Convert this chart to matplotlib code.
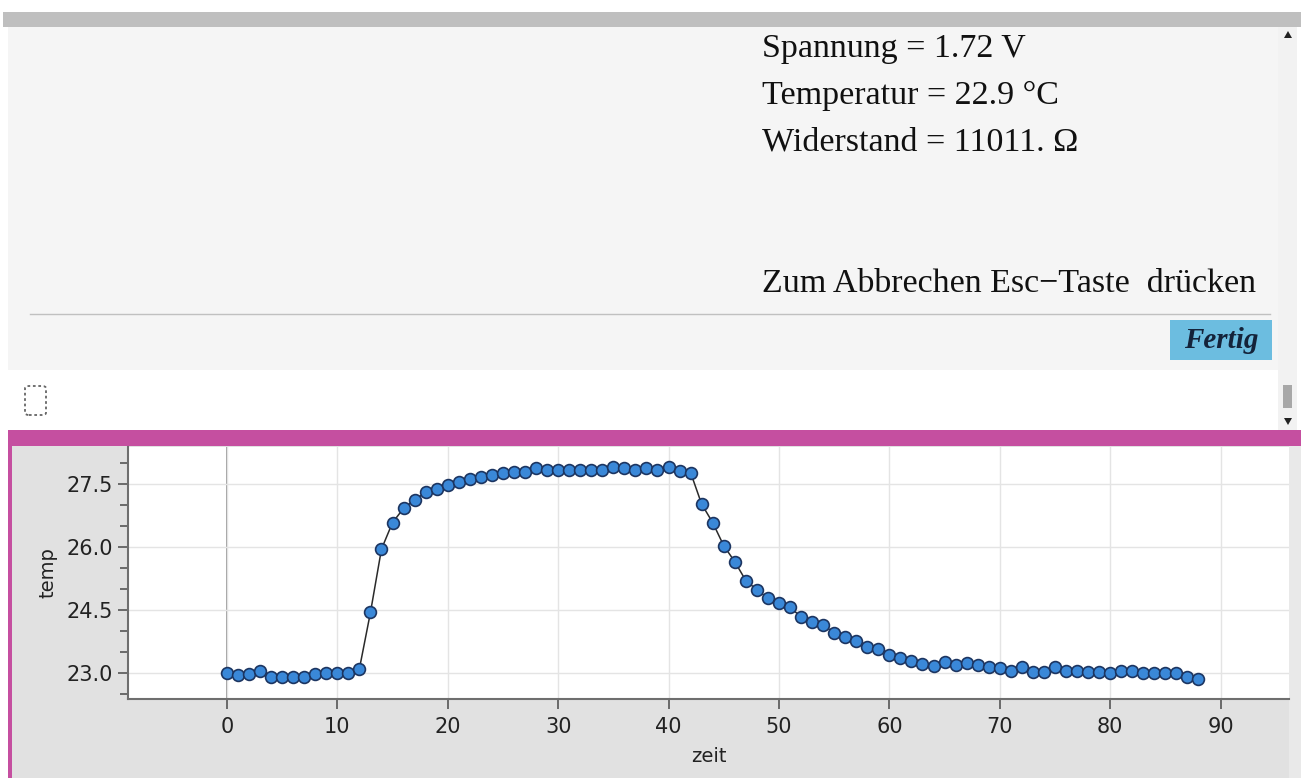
import matplotlib
matplotlib.use("Agg")
import matplotlib.pyplot as plt
from matplotlib.patches import Rectangle, FancyBboxPatch, Polygon

# messwerte (zeit in s, temp in °C)
zeit = list(range(0, 89))
temp = [
    23.00, 22.96, 22.98, 23.05, 22.91, 22.91, 22.91, 22.91, 22.97, 23.00,
    23.00, 23.00, 23.10, 24.44, 25.95, 26.58, 26.92, 27.12, 27.30, 27.38,
    27.47, 27.55, 27.63, 27.67, 27.71, 27.77, 27.79, 27.79, 27.87, 27.83,
    27.83, 27.83, 27.83, 27.83, 27.83, 27.91, 27.87, 27.83, 27.87, 27.83,
    27.91, 27.81, 27.77, 27.02, 26.58, 26.03, 25.65, 25.20, 24.98, 24.78,
    24.66, 24.56, 24.34, 24.22, 24.14, 23.96, 23.86, 23.75, 23.61, 23.57,
    23.43, 23.35, 23.29, 23.21, 23.17, 23.27, 23.20, 23.23, 23.20, 23.14,
    23.11, 23.05, 23.14, 23.03, 23.03, 23.14, 23.05, 23.05, 23.03, 23.03,
    23.00, 23.05, 23.05, 23.00, 22.99, 23.00, 22.99, 22.90, 22.85,
]
x_ticks = [0, 10, 20, 30, 40, 50, 60, 70, 80, 90]
y_ticks = [23.0, 24.5, 26.0, 27.5]
anzeige = ["Spannung = 1.72 V", "Temperatur = 22.9 °C", "Widerstand = 11011. Ω"]

W, H = 1301, 778
fig = plt.figure(figsize=(W / 100, H / 100), dpi=100)
fig.patch.set_facecolor("white")


def box(x0, y0, x1, y1, **kw):
    # pixel coords, origin top-left
    r = Rectangle((x0 / W, 1 - y1 / H), (x1 - x0) / W, (y1 - y0) / H,
                  transform=fig.transFigure, **kw)
    fig.patches.append(r)
    return r


def ftext(x, y, s, **kw):
    fig.text(x / W, 1 - y / H, s, **kw)


# oberes fenster
box(3, 12, 1301, 27, color="#bfbfbf", lw=0)
box(8, 27, 1278, 370, color="#f5f5f5", lw=0)
box(8, 370, 1278, 430, color="#ffffff", lw=0)
box(1278, 27, 1297, 430, color="#f2f2f2", lw=0)
box(1283, 385, 1292, 408, color="#a8a8a8", lw=0)
fig.patches.append(Polygon([(1284 / W, 1 - 38 / H), (1292 / W, 1 - 38 / H), (1288 / W, 1 - 31 / H)],
                           closed=True, transform=fig.transFigure, color="#222222", lw=0))
fig.patches.append(Polygon([(1284 / W, 1 - 418 / H), (1292 / W, 1 - 418 / H), (1288 / W, 1 - 425 / H)],
                           closed=True, transform=fig.transFigure, color="#222222", lw=0))
fig.lines.append(plt.Line2D([30 / W, 1270 / W], [1 - 314 / H, 1 - 314 / H],
                            transform=fig.transFigure, color="#c0c0c0", lw=1))

serif = ["Liberation Serif", "DejaVu Serif"]
for i, s in enumerate(anzeige):
    ftext(762, 57 + i * 46.7, s, family=serif, fontsize=24.5, color="#111111", va="baseline")
ftext(762, 292, "Zum Abbrechen Esc\u2212Taste  drücken", family=serif, fontsize=24.5,
      color="#111111", va="baseline")

box(1170, 320, 1272, 360, color="#6cbde0", lw=0)
ftext(1221, 348, "Fertig", family=serif, fontsize=21, style="italic", weight="bold",
      color="#14233a", ha="center", va="baseline")

icon = FancyBboxPatch((25 / W, 1 - 415 / H), 21 / W, 29 / H,
                      boxstyle="round,pad=0,rounding_size=0.003",
                      transform=fig.transFigure, fill=False, ec="#666666",
                      lw=1.3, ls=(0, (1.5, 1.5)))
fig.patches.append(icon)

# unteres fenster
box(8, 430, 1301, 446, color="#c54fa0", lw=0)
box(8, 446, 12, 778, color="#c54fa0", lw=0)
box(12, 446, 1301, 778, color="#e1e1e1", lw=0)
box(1289, 446, 1301, 778, color="#e9e9e9", lw=0)

# diagramm
ax_l, ax_r, ax_t, ax_b = 128, 1289, 447, 699
ax = fig.add_axes([ax_l / W, 1 - ax_b / H, (ax_r - ax_l) / W, (ax_b - ax_t) / H])
ax.set_zorder(5)
ax.set_facecolor("white")
ax.set_xlim(-8.96, 96.2)
ax.set_ylim(22.38, 28.38)

ax.set_xticks(x_ticks)
ax.set_yticks(y_ticks)
ax.set_yticks([v / 2 for v in range(45, 57)], minor=True)
ax.set_yticklabels([f"{v:.1f}" for v in y_ticks])
ax.grid(True, which="major", color="#e4e4e4", lw=1)
ax.axvline(0, color="#8a8a8a", lw=1.2, zorder=1)

for side in ["top", "right"]:
    ax.spines[side].set_visible(False)
for side in ["left", "bottom"]:
    ax.spines[side].set_color("#6e6e6e")
    ax.spines[side].set_linewidth(1.5)

ax.tick_params(axis="both", which="major", length=7, width=1.2, color="#555555",
               labelsize=15, labelcolor="#222222")
ax.tick_params(axis="y", which="minor", length=6, width=1.2, color="#555555")
ax.tick_params(axis="x", pad=6)
ax.tick_params(axis="y", pad=4)

ax.plot(zeit, temp, color="#2a2a2a", lw=1.1, zorder=2,
        marker="o", markersize=8.5, markerfacecolor="#3a88d8",
        markeredgecolor="#1c3561", markeredgewidth=1.2, clip_on=False)

ax.set_xlabel("zeit", fontsize=14, color="#222222", labelpad=7)
ax.set_ylabel("temp", fontsize=14, color="#222222", labelpad=6)

fig.savefig("out.png", dpi=100)
